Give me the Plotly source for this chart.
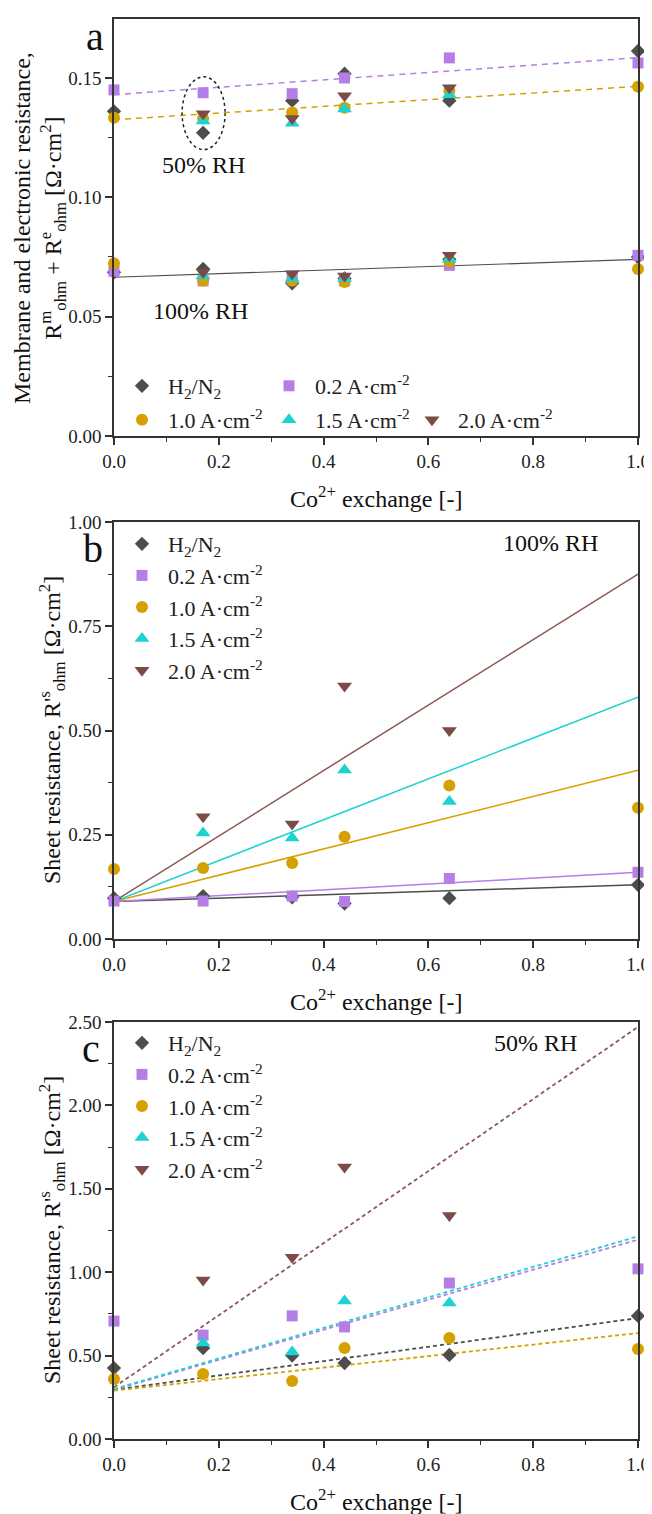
import plotly.graph_objects as go

# ---------------- data ----------------
x_all = [0.0, 0.17, 0.34, 0.44, 0.64, 1.0]
x_mid = [0.17, 0.34, 0.44, 0.64]
x_fit = [0.0, 1.0]

# panel a, 50% RH
a50_h2n2 = [0.136, 0.127, 0.1405, 0.1518, 0.1405, 0.1613]
a50_j02 = [0.145, 0.1438, 0.1434, 0.150, 0.1584, 0.1563]
a50_j10 = [0.1333, 0.133, 0.1355, 0.1375, 0.1446, 0.1463]
a50_j15 = [0.132, 0.131, 0.137, 0.143]
a50_j20 = [0.135, 0.133, 0.1425, 0.1459]
# panel a, 100% RH
a100_h2n2 = [0.0686, 0.070, 0.064, 0.066, 0.074, 0.075]
a100_j02 = [0.069, 0.065, 0.066, 0.065, 0.0715, 0.0757]
a100_j10 = [0.0724, 0.065, 0.065, 0.0645, 0.073, 0.070]
a100_j15 = [0.067, 0.066, 0.066, 0.074]
a100_j20 = [0.0686, 0.068, 0.067, 0.0757]
# panel a fits
fit_a50_j02 = [0.143, 0.1585]
fit_a50_j10 = [0.1325, 0.1465]
fit_a100 = [0.0665, 0.074]

# panel b, 100% RH
b_h2n2 = [0.098, 0.103, 0.100, 0.085, 0.098, 0.130]
b_j02 = [0.091, 0.091, 0.103, 0.090, 0.145, 0.160]
b_j10 = [0.168, 0.170, 0.182, 0.245, 0.368, 0.315]
b_j15 = [0.254, 0.242, 0.405, 0.330]
b_j20 = [0.293, 0.276, 0.607, 0.500]
fit_b_h2n2 = [0.09, 0.13]
fit_b_j02 = [0.09, 0.16]
fit_b_j10 = [0.09, 0.405]
fit_b_j15 = [0.09, 0.58]
fit_b_j20 = [0.09, 0.875]

# panel c, 50% RH
c_h2n2 = [0.425, 0.545, 0.500, 0.455, 0.504, 0.738]
c_j02 = [0.707, 0.623, 0.738, 0.672, 0.935, 1.020]
c_j10 = [0.360, 0.390, 0.348, 0.546, 0.606, 0.540]
c_j15 = [0.576, 0.522, 0.827, 0.815]
c_j20 = [0.953, 1.090, 1.630, 1.340]
fit_c_h2n2 = [0.295, 0.725]
fit_c_j02 = [0.295, 1.195]
fit_c_j10 = [0.29, 0.635]
fit_c_j15 = [0.30, 1.215]
fit_c_j20 = [0.31, 2.47]

names = ["H<sub>2</sub>/N<sub>2</sub>", "0.2 A·cm<sup>-2</sup>", "1.0 A·cm<sup>-2</sup>",
         "1.5 A·cm<sup>-2</sup>", "2.0 A·cm<sup>-2</sup>"]
colors = ["#4d4d4d", "#b57ee6", "#d6a000", "#1ed2d2", "#7a4b47"]
line_colors = ["#4d4d4d", "#b57ee6", "#d6a000", "#1ed2d2", "#8c5a55"]
symbols = ["diamond", "square", "circle", "triangle-up", "triangle-down"]
sizes = [11, 11, 12, 13, 13]

# page body has an 8px margin -> figure occupies the window minus that offset
OFF = 8
W, H = 652 - OFF, 1514 - OFF
FONT = "Liberation Serif"


def px(x):
    return (x - OFF) / W


def py(y):
    return 1 - (y - OFF) / H


fig = go.Figure()

panels = [
    dict(xa="x", ya="y", leg=["legend", "legend2", "legend5", "legend6", "legend7"],
         series=[(x_all + x_all, a50_h2n2 + a100_h2n2), (x_all + x_all, a50_j02 + a100_j02),
                 (x_all + x_all, a50_j10 + a100_j10), (x_mid + x_mid, a50_j15 + a100_j15),
                 (x_mid + x_mid, a50_j20 + a100_j20)]),
    dict(xa="x2", ya="y2", leg=["legend3"] * 5,
         series=[(x_all, b_h2n2), (x_all, b_j02), (x_all, b_j10), (x_mid, b_j15), (x_mid, b_j20)]),
    dict(xa="x3", ya="y3", leg=["legend4"] * 5,
         series=[(x_all, c_h2n2), (x_all, c_j02), (x_all, c_j10), (x_mid, c_j15), (x_mid, c_j20)]),
]

# fit lines
fits = [
    ("x", "y", fit_a50_j02, 1, "6px,5px", 1.5),
    ("x", "y", fit_a50_j10, 2, "6px,5px", 1.5),
    ("x", "y", fit_a100, 0, "solid", 1.2),
    ("x2", "y2", fit_b_h2n2, 0, "solid", 1.5),
    ("x2", "y2", fit_b_j02, 1, "solid", 1.5),
    ("x2", "y2", fit_b_j10, 2, "solid", 1.5),
    ("x2", "y2", fit_b_j15, 3, "solid", 1.5),
    ("x2", "y2", fit_b_j20, 4, "solid", 1.5),
    ("x3", "y3", fit_c_h2n2, 0, "4px,3px", 1.8),
    ("x3", "y3", fit_c_j02, 1, "4px,3px", 1.8),
    ("x3", "y3", fit_c_j10, 2, "4px,3px", 1.8),
    ("x3", "y3", fit_c_j15, 3, "4px,3px", 1.8),
    ("x3", "y3", fit_c_j20, 4, "4px,3px", 1.8),
]
for xa, ya, vals, ci, dash, lw in fits:
    fig.add_trace(go.Scatter(x=x_fit, y=vals, mode="lines", xaxis=xa, yaxis=ya,
                             line=dict(color=line_colors[ci], width=lw, dash=dash),
                             showlegend=False, hoverinfo="skip"))

for p in panels:
    for i, (xs, ys) in enumerate(p["series"]):
        fig.add_trace(go.Scatter(x=xs, y=ys, mode="markers", xaxis=p["xa"], yaxis=p["ya"],
                                 name=names[i], legend=p["leg"][i], cliponaxis=False,
                                 marker=dict(symbol=symbols[i], color=colors[i], size=sizes[i],
                                             line=dict(width=0))))

# axes
xdom = [px(114), px(638)]
ydoms = [(19, 436), (522, 939), (1022, 1439)]
yranges = [[0, 0.1747], [0, 1.0], [0, 2.5]]
ydticks = [0.05, 0.25, 0.5]
axis_common = dict(showline=True, linecolor="#333333", linewidth=1.6, mirror=True,
                   ticks="outside", ticklen=7, tickwidth=1.5, tickcolor="#333333",
                   showgrid=False, zeroline=False, automargin=False,
                   tickfont=dict(family=FONT, size=19, color="#222222"))
for k in range(3):
    sfx = "" if k == 0 else str(k + 1)
    top, bot = ydoms[k]
    fig.update_layout(**{
        "xaxis" + sfx: dict(domain=xdom, range=[0, 1], anchor="y" + sfx, dtick=0.2,
                            tickformat=".1f",
                            minor=dict(ticks="outside", ticklen=4, tickwidth=1.3,
                                       tickcolor="#333333", dtick=0.1),
                            **axis_common),
        "yaxis" + sfx: dict(domain=[py(bot), py(top)], range=yranges[k], anchor="x" + sfx,
                            dtick=ydticks[k], tickformat=".2f",
                            minor=dict(ticks="outside", ticklen=4, tickwidth=1.3,
                                       tickcolor="#333333", dtick=ydticks[k] / 2),
                            **axis_common),
    })

legfont = dict(family=FONT, size=22, color="#222222")
LEG_SYM = 22  # symbol centre offset from legend left edge


def leg(xsym, yp, anchor):
    return dict(x=px(xsym - LEG_SYM), y=py(yp), xanchor="left", yanchor=anchor,
                orientation="v", font=legfont, bgcolor="rgba(0,0,0,0)", itemwidth=42)


fig.update_layout(
    legend=leg(138, 386, "middle"),
    legend2=leg(285, 386, "middle"),
    legend5=leg(138, 420, "middle"),
    legend6=leg(285, 420, "middle"),
    legend7=leg(428, 420, "middle"),
    legend3=leg(138, 523, "top"),
    legend4=leg(138, 1022, "top"),
)

# ellipse around the 0.17 points at 50% RH
fig.add_shape(type="circle", xref="x", yref="y", x0=0.13, x1=0.212, y0=0.12, y1=0.1505,
              line=dict(color="#222222", width=1.5, dash="dot"))

tfont = dict(family=FONT, size=24, color="#111111")
ann = []
# panel letters
for lab, xx, yy in [("a", 95, 37), ("b", 93, 548), ("c", 91, 1048)]:
    ann.append(dict(text=lab, x=px(xx), y=py(yy), xref="paper", yref="paper", showarrow=False,
                    xanchor="center", yanchor="middle",
                    font=dict(family=FONT, size=40, color="#111111")))
# RH labels
for lab, xx, yy in [("50% RH", 203, 165), ("100% RH", 200, 311), ("100% RH", 550, 543),
                    ("50% RH", 535, 1043)]:
    ann.append(dict(text=lab, x=px(xx), y=py(yy), xref="paper", yref="paper", showarrow=False,
                    xanchor="center", yanchor="middle", font=tfont))
# x titles
for yy in [497, 1000, 1500]:
    ann.append(dict(text="Co<sup>2+</sup> exchange [-]", x=px(376), y=py(yy), xref="paper",
                    yref="paper", showarrow=False, xanchor="center", yanchor="middle", font=tfont))
# y titles
ann.append(dict(text="Membrane and electronic resistance,<br>R<sup>m</sup><sub>ohm</sub> + "
                     "R<sup>e</sup><sub>ohm</sub> [Ω·cm<sup>2</sup>]",
                x=px(40), y=py(228), xref="paper", yref="paper", showarrow=False, textangle=-90,
                xanchor="center", yanchor="middle", font=tfont))
for yy in [730, 1230]:
    ann.append(dict(text="Sheet resistance, R'<sup>s</sup><sub>ohm</sub> [Ω·cm<sup>2</sup>]",
                    x=px(52), y=py(yy), xref="paper", yref="paper", showarrow=False,
                    textangle=-90, xanchor="center", yanchor="middle", font=tfont))

fig.update_layout(annotations=ann, width=W, height=H,
                  margin=dict(l=0, r=0, t=0, b=0, pad=0, autoexpand=False),
                  paper_bgcolor="white", plot_bgcolor="white",
                  font=dict(family=FONT, color="#222222"))

fig.write_html("out.html")
